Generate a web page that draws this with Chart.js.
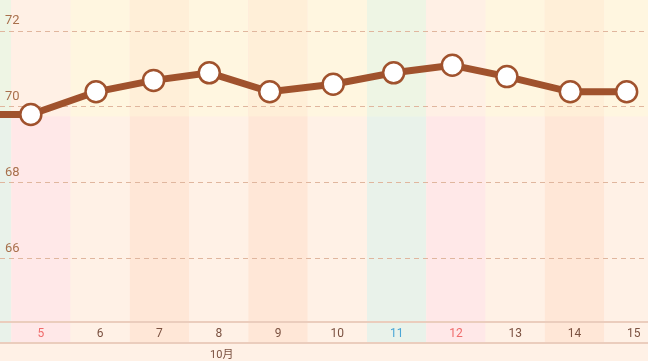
<!DOCTYPE html>
<html>
<head>
<meta charset="utf-8">
<script src="https://cdn.jsdelivr.net/npm/chart.js@4/dist/chart.umd.min.js"></script>
<style>
  body { margin: 0; background: #fff1e6; }
  canvas { display: block; }
</style>
</head>
<body>
<canvas id="weightChart" width="648" height="361"></canvas>
<script>
// Days of October shown (4 is just off the left edge)
const days = [4, 5, 6, 7, 8, 9, 10, 11, 12, 13, 14, 15];
// when each weight was taken (day number, the fraction is the time of day)
const measuredAt = [3.85, 4.83, 5.93, 6.90, 7.84, 8.86, 9.93, 10.95, 11.94, 12.86, 13.93, 14.88];
const weights = [69.8, 69.8, 70.4, 70.7, 70.9, 70.4, 70.6, 70.9, 71.1, 70.8, 70.4, 70.4];
// column kind per day: sat / sun / light / dark
const dayKinds = ['sat', 'sun', 'light', 'dark', 'light', 'dark', 'light', 'sat', 'sun', 'light', 'dark', 'light'];
const yTicks = [66, 68, 70, 72];
const bandLimit = 69.75;
const monthLabel = '10月';
const monthLabelDay = 8;

const FONT = "Roboto, 'Noto Sans CJK JP', sans-serif";

const colBottom = { light: '#fff1e6', dark: '#ffe7d7', sun: '#ffe8e8', sat: '#e9f2ea' };
const colTop = { light: '#fff6e0', dark: '#ffefd8', sun: '#fff0e5', sat: '#eef5e4' };
const labelColors = { sat: '#4aa6d6', sun: '#f06b6b', light: '#7b5140', dark: '#7b5140' };

// Draw the day columns, the upper band and the axis lines
const backgroundPlugin = {
    id: 'background',
    beforeDraw(chart) {
        const { ctx, chartArea, scales } = chart;
        const x = scales.x;
        const y = scales.y;
        const labelBottom = chartArea.bottom + 21;
        const bandY = y.getPixelForValue(bandLimit);
        ctx.save();
        ctx.fillStyle = '#fff1e6';
        ctx.fillRect(0, 0, chart.width, chart.height);
        days.forEach((d, i) => {
            const left = x.getPixelForValue(d - 0.5);
            const right = x.getPixelForValue(d + 0.5);
            const kind = dayKinds[i];
            ctx.fillStyle = colBottom[kind];
            ctx.fillRect(left, chartArea.top, right - left, labelBottom - chartArea.top);
            ctx.fillStyle = colTop[kind];
            ctx.fillRect(left, chartArea.top, right - left, bandY - chartArea.top);
        });
        ctx.strokeStyle = '#ebcdbd';
        ctx.lineWidth = 2;
        ctx.beginPath();
        ctx.moveTo(0, chartArea.bottom);
        ctx.lineTo(chart.width, chartArea.bottom);
        ctx.moveTo(0, labelBottom);
        ctx.lineTo(chart.width, labelBottom);
        ctx.stroke();
        ctx.restore();
    },
    afterDraw(chart) {
        const { ctx, chartArea, scales } = chart;
        ctx.save();
        ctx.fillStyle = '#7b5140';
        ctx.font = '11px ' + FONT;
        ctx.textAlign = 'center';
        ctx.textBaseline = 'middle';
        ctx.fillText(monthLabel, scales.x.getPixelForValue(monthLabelDay) + 3, chartArea.bottom + 33);
        ctx.restore();
    }
};

const ctx = document.getElementById('weightChart').getContext('2d');
new Chart(ctx, {
    type: 'line',
    data: {
        datasets: [{
            data: measuredAt.map((t, i) => ({ x: t, y: weights[i] })),
            borderColor: '#a0522d',
            borderWidth: 7,
            tension: 0,
            pointRadius: 10.5,
            pointHoverRadius: 10.5,
            pointBackgroundColor: '#ffffff',
            pointBorderColor: '#a0522d',
            pointBorderWidth: 2.5,
            clip: false
        }]
    },
    options: {
        responsive: false,
        animation: false,
        events: [],
        layout: { padding: 0, autoPadding: false },
        plugins: {
            legend: { display: false },
            tooltip: { enabled: false }
        },
        scales: {
            x: {
                type: 'linear',
                min: 4.31,
                max: 15.24,
                grid: { display: false, drawTicks: false },
                border: { display: false },
                ticks: {
                    stepSize: 1,
                    includeBounds: false,
                    padding: 5,
                    maxRotation: 0,
                    font: { family: FONT, size: 12 },
                    color: (c) => {
                        const i = days.indexOf(c.tick.value);
                        return i >= 0 ? labelColors[dayKinds[i]] : '#7b5140';
                    }
                },
                afterBuildTicks: (scale) => {
                    scale.ticks = days.filter(d => d >= 5).map(d => ({ value: d }));
                },
                afterFit: (scale) => {
                    scale.height = 39;
                    scale.paddingLeft = 0;
                    scale.paddingRight = 0;
                }
            },
            y: {
                min: 64.33,
                max: 72.82,
                grid: {
                    color: '#e0b69e',
                    lineWidth: 1,
                    drawTicks: false
                },
                border: { display: false, dash: [5, 4] },
                ticks: {
                    mirror: true,
                    padding: 5,
                    labelOffset: -10,
                    color: '#a8704c',
                    font: { family: FONT, size: 13 }
                },
                afterBuildTicks: (scale) => {
                    scale.ticks = yTicks.map(v => ({ value: v }));
                },
                afterFit: (scale) => {
                    scale.width = 0;
                    scale.paddingTop = 0;
                    scale.paddingBottom = 0;
                }
            }
        }
    },
    plugins: [backgroundPlugin]
});
</script>
</body>
</html>
